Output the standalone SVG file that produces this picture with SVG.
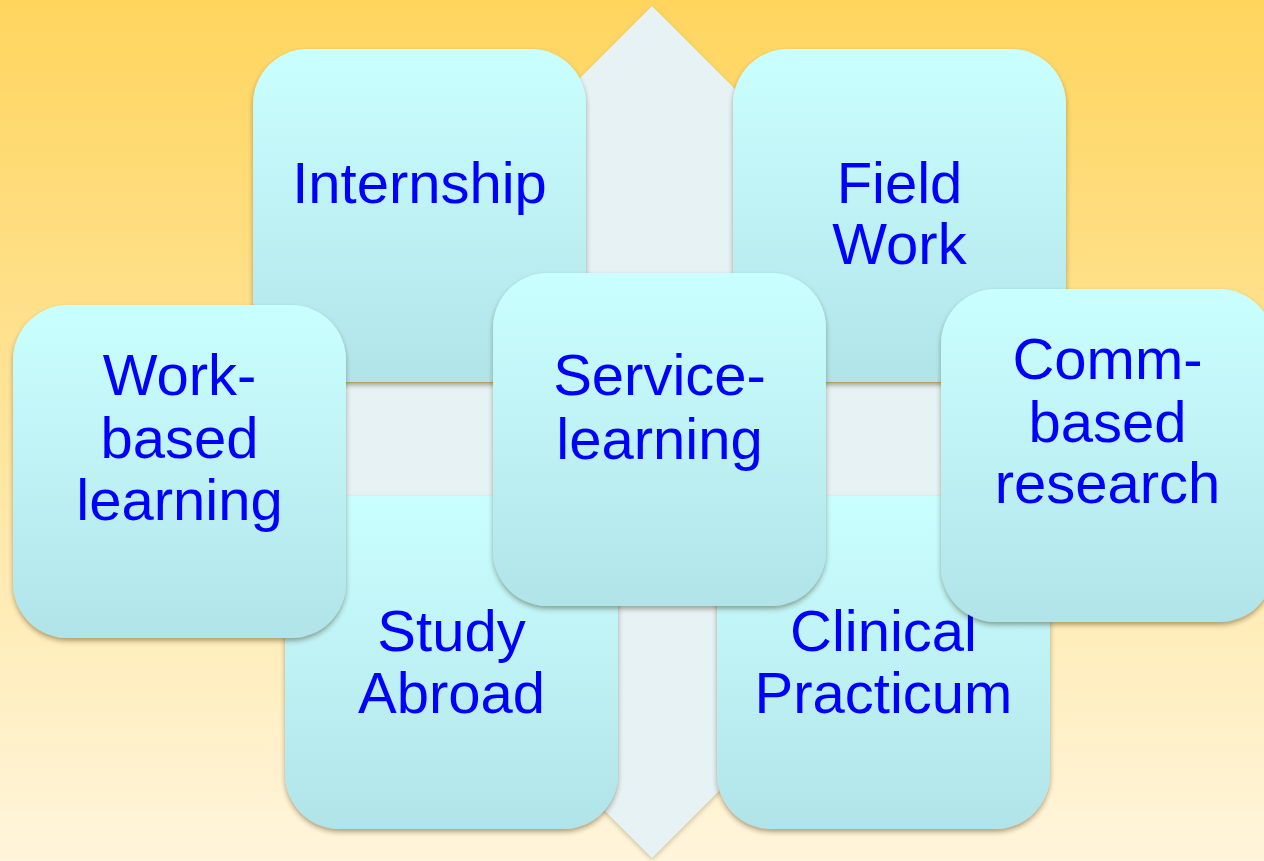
<svg xmlns="http://www.w3.org/2000/svg" width="1264" height="861" viewBox="0 0 1264 861">
  <defs>
    <linearGradient id="bg" x1="0" y1="0" x2="0" y2="1">
      <stop offset="0" stop-color="#FFD55E"/>
      <stop offset="0.5" stop-color="#FFE59C"/>
      <stop offset="1" stop-color="#FFF5DC"/>
    </linearGradient>
    <linearGradient id="tile" x1="0" y1="0" x2="0" y2="1">
      <stop offset="0" stop-color="#CAFFFF"/>
      <stop offset="1" stop-color="#B1E4E9"/>
    </linearGradient>
    <filter id="shadow" x="-10%" y="-10%" width="120%" height="125%">
      <feDropShadow dx="0" dy="3" stdDeviation="2.5" flood-color="#3a2a00" flood-opacity="0.4"/>
    </filter>
    <filter id="crossShadow" x="-10%" y="-10%" width="120%" height="120%">
      <feDropShadow dx="0" dy="2" stdDeviation="2" flood-color="#6b5a20" flood-opacity="0.35"/>
    </filter>
  </defs>
  <style>
    .box { fill: url(#tile); filter: url(#shadow); }
    .label { font-family: "Liberation Sans", Arial, Helvetica, sans-serif; font-size: 58px; fill: #0000FF; text-anchor: middle; }
  </style>

  <!-- background -->
  <rect x="0" y="0" width="1264" height="861" fill="url(#bg)"/>

  <!-- cross backdrop: vertical double arrow and horizontal band -->
  <g id="backdrop" fill="#E6F2F4" filter="url(#crossShadow)">
    <polygon points="652,6 740,94 740,770 652,858 564,770 564,94"/>
    <rect x="200" y="383" width="900" height="114"/>
  </g>

  <!-- connectors: none drawn -->
  <g id="connectors"/>

  <g id="internship">
    <rect class="box" x="253" y="49" width="333" height="333" rx="55"/>
    <text class="label" x="419.5" y="203">Internship</text>
  </g>

  <g id="field-work">
    <rect class="box" x="733" y="49" width="333" height="333" rx="55"/>
    <text class="label" x="899.5" y="203">Field</text>
    <text class="label" x="899.5" y="264">Work</text>
  </g>

  <g id="study-abroad">
    <rect class="box" x="285" y="496" width="333" height="333" rx="55"/>
    <text class="label" x="451.5" y="651">Study</text>
    <text class="label" x="451.5" y="713">Abroad</text>
  </g>

  <g id="clinical-practicum">
    <rect class="box" x="717" y="496" width="333" height="333" rx="55"/>
    <text class="label" x="883.5" y="651">Clinical</text>
    <text class="label" x="883.5" y="713">Practicum</text>
  </g>

  <g id="work-based-learning">
    <rect class="box" x="13" y="305" width="333" height="333" rx="55"/>
    <text class="label" x="179.5" y="395">Work-</text>
    <text class="label" x="179.5" y="458">based</text>
    <text class="label" x="179.5" y="520">learning</text>
  </g>

  <g id="service-learning">
    <rect class="box" x="493" y="273" width="333" height="333" rx="55"/>
    <text class="label" x="659.5" y="395">Service-</text>
    <text class="label" x="659.5" y="459">learning</text>
  </g>

  <g id="comm-based-research">
    <rect class="box" x="941" y="289" width="333" height="333" rx="55"/>
    <text class="label" x="1107.5" y="379">Comm-</text>
    <text class="label" x="1107.5" y="442">based</text>
    <text class="label" x="1107.5" y="503">research</text>
  </g>
</svg>
